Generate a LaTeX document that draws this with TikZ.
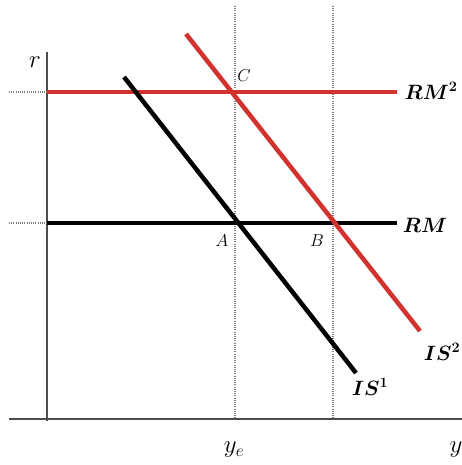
\documentclass[tikz,border=0pt]{standalone}
\usepackage{bm}
\begin{document}
\begin{tikzpicture}[x=1pt,y=-1pt,
  axis/.style={draw=black!70,line width=1.5pt},
  guide/.style={draw=black!50,line width=1.3pt,dash pattern=on 1pt off 1.2pt},
  curveblack/.style={draw=black,line width=4.5pt},
  curvered/.style={draw=myred,line width=4.5pt},
  lbl/.style={inner sep=0pt,font=\fontsize{22}{26}\selectfont},
  ax/.style={inner sep=0pt,font=\fontsize{25}{30}\selectfont},
  pt/.style={inner sep=0pt,font=\fontsize{18}{21}\selectfont}]
\definecolor{myred}{RGB}{210,50,45}
\useasboundingbox (0,0) rectangle (462,465);
% axes
\coordinate (ytop) at (47,52);
\coordinate (ybot) at (47,421);
\coordinate (xl) at (9,419);
\coordinate (xr) at (462,419);
\draw[axis] (ytop) -- (ybot);
\draw[axis] (xl) -- (xr);
% guides
\coordinate (g1t) at (235,6);
\coordinate (g1b) at (235,419);
\coordinate (g2t) at (333,6);
\coordinate (g2b) at (333,419);
\draw[guide] (g1t) -- (g1b);
\draw[guide] (g2t) -- (g2b);
\coordinate (t1l) at (9,92);
\coordinate (t1r) at (47,92);
\coordinate (t2l) at (9,223);
\coordinate (t2r) at (47,223);
\draw[guide] (t1l) -- (t1r);
\draw[guide] (t2l) -- (t2r);
% curves
\coordinate (rm2l) at (47,92);
\coordinate (rm2r) at (397,92);
\coordinate (rml) at (47,223);
\coordinate (rmr) at (397,223);
\coordinate (is1a) at (124,77);
\coordinate (is1b) at (356,373);
\coordinate (is2a) at (186,34);
\coordinate (is2b) at (420,331);
\draw[curvered] (rm2l) -- (rm2r);
\draw[curveblack] (rml) -- (rmr);
\draw[curveblack] (is1a) -- (is1b);
\draw[curvered] (is2a) -- (is2b);
% labels
\node[ax] (r) at (35,62) {$r$};
\node[ax] (y) at (456,450) {$y$};
\node[ax] (ye) at (234,450) {$y_e$};
\node[lbl] (RM2) at (431,91) {$\bm{RM^2}$};
\node[lbl] (RM) at (425,225) {$\bm{RM}$};
\node[lbl] (IS1) at (370,387) {$\bm{IS^1}$};
\node[lbl] (IS2) at (442,352) {$\bm{IS^2}$};
\node[pt] (C) at (244,76) {$C$};
\node[pt] (A) at (222,241) {$A$};
\node[pt] (B) at (317,241) {$B$};
\end{tikzpicture}
\end{document}
